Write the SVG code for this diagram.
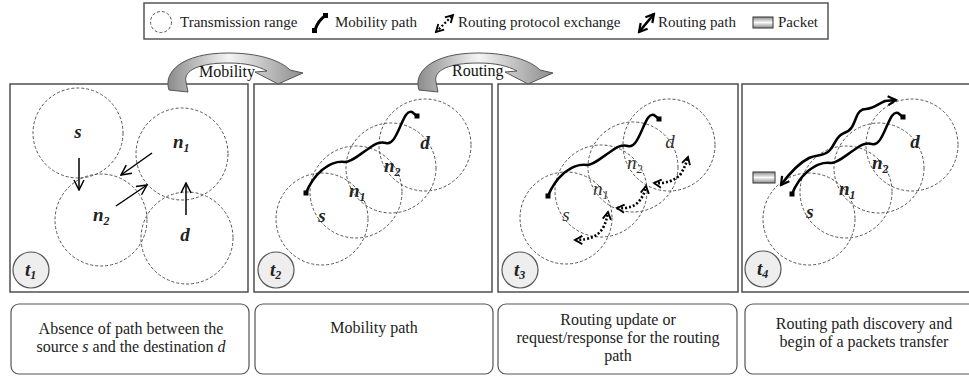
<svg xmlns="http://www.w3.org/2000/svg" width="969" height="378" viewBox="0 0 969 378">
<style>
.frame{fill:#fff;stroke:#444;stroke-width:1.4}
.cap{fill:#fff;stroke:#555;stroke-width:1.2}
.rng{fill:none;stroke:#555;stroke-width:1;stroke-dasharray:3 2}
.lbl{font-family:"Liberation Serif","Times New Roman",serif;font-style:italic;font-weight:bold;font-size:19px;fill:#222}
.lbl3{font-family:"Liberation Serif","Times New Roman",serif;font-style:italic;font-size:19px;fill:#333}
.sub{font-size:12px}
.txt{font-family:"Liberation Serif","Times New Roman",serif;font-size:15px;fill:#222}
.ctx{font-family:"Liberation Serif","Times New Roman",serif;font-size:16px;fill:#222}
.ttl{font-family:"Liberation Serif","Times New Roman",serif;font-size:16px;fill:#111}
.tc{fill:#eee;stroke:#555;stroke-width:1.2}
.mob{fill:none;stroke:#000;stroke-width:2.5;stroke-linejoin:round}
.arr{fill:none;stroke:#000;stroke-width:1.5;marker-end:url(#open)}
.dot{fill:none;stroke:#000;stroke-width:2.6;stroke-dasharray:2 2;marker-start:url(#dh);marker-end:url(#dh)}
.rp{fill:none;stroke:#000;stroke-width:2.6;marker-start:url(#rh);marker-end:url(#rh)}
.sq{fill:#000}
</style>
<defs>
<marker id="open" markerUnits="userSpaceOnUse" viewBox="0 0 12 12" refX="11" refY="6" markerWidth="12" markerHeight="12" orient="auto">
<path d="M1,1 L11,6 L1,11" fill="none" stroke="#000" stroke-width="1.5"/>
</marker>
<marker id="dh" markerUnits="userSpaceOnUse" viewBox="0 0 12 12" refX="10" refY="6" markerWidth="11" markerHeight="11" orient="auto-start-reverse">
<path d="M2,1.5 L10,6 L2,10.5" fill="none" stroke="#000" stroke-width="2"/>
</marker>
<marker id="rh" markerUnits="userSpaceOnUse" viewBox="0 0 12 12" refX="10" refY="6" markerWidth="12" markerHeight="12" orient="auto-start-reverse">
<path d="M2,1.5 L10,6 L2,10.5" fill="none" stroke="#000" stroke-width="2.2"/>
</marker>
<linearGradient id="ag" x1="0" y1="0" x2="1" y2="0">
<stop offset="0" stop-color="#8c8c8c"/>
<stop offset="0.45" stop-color="#f4f4f4"/>
<stop offset="1" stop-color="#8c8c8c"/>
</linearGradient>
<linearGradient id="pg" x1="0" y1="0" x2="0" y2="1">
<stop offset="0" stop-color="#8a8a8a"/>
<stop offset="0.5" stop-color="#fafafa"/>
<stop offset="1" stop-color="#8a8a8a"/>
</linearGradient>
<path id="curv" d="M169,90 C163,72 182,53 228,53 C258,53 280,60 290,70 L303,73 L278,84 L255,72 L267,71 C258,66 246,63 228,63 C200,63 183,70 186,82 L188,92 Z" fill="url(#ag)" stroke="#555" stroke-width="1"/>
<path id="mpath" d="M306,193 C310,183 315,176 322,170 C330,164 336,161 345,162 C352,162 360,154 368,149 C375,144 380,141 386,143 C392,145 396,136 400,127 C404,118 407,110 412,112 L417,116"/>
</defs>

<!-- Legend -->
<g id="legend">
<rect x="144" y="3" width="684" height="36" fill="#fff" stroke="#555" stroke-width="1.5"/>
<circle cx="161" cy="22" r="10.5" class="rng"/>
<text x="180" y="27" class="txt">Transmission range</text>
<path d="M315,30 C317,24 320,19 325,16" fill="none" stroke="#000" stroke-width="3"/>
<rect x="312" y="28" width="5" height="5" class="sq"/>
<rect x="323" y="13" width="5" height="5" class="sq"/>
<text x="335" y="27" class="txt">Mobility path</text>
<path d="M436,32 L453,15" fill="none" stroke="#000" stroke-width="2.2" stroke-dasharray="2 2" marker-start="url(#dh)" marker-end="url(#dh)"/>
<text x="458" y="27" class="txt">Routing protocol exchange</text>
<path d="M639,32 L654,14" fill="none" stroke="#000" stroke-width="2.6" marker-start="url(#rh)" marker-end="url(#rh)"/>
<text x="658" y="27" class="txt">Routing path</text>
<rect x="753" y="17" width="20" height="11" fill="url(#pg)" stroke="#333" stroke-width="1"/>
<text x="778" y="27" class="txt">Packet</text>
</g>

<!-- Panels -->
<g id="panel1">
<rect x="10" y="84" width="238" height="208" class="frame"/>
<g id="p1-s"><circle cx="78" cy="133" r="45" class="rng"/><text x="78" y="138" text-anchor="middle" class="lbl">s</text></g>
<g id="p1-n1"><circle cx="182" cy="154" r="46" class="rng"/><text x="173" y="148" class="lbl">n<tspan class="sub" dy="4">1</tspan></text></g>
<g id="p1-n2"><circle cx="101" cy="220" r="46" class="rng"/><text x="93" y="221" class="lbl">n<tspan class="sub" dy="4">2</tspan></text></g>
<g id="p1-d"><circle cx="187" cy="238" r="46" class="rng"/><text x="185" y="241" text-anchor="middle" class="lbl">d</text></g>
<g id="p1-t"><circle cx="31" cy="270" r="18" class="tc"/><text x="25" y="276" class="lbl">t<tspan class="sub" dy="3">1</tspan></text></g>
</g>

<g id="panel2">
<rect x="254" y="84" width="238" height="208" class="frame"/>
<g id="p2-s"><circle cx="322" cy="219" r="46" class="rng"/><text x="322" y="222" text-anchor="middle" class="lbl">s</text></g>
<g id="p2-n1"><circle cx="356" cy="192" r="46" class="rng"/><text x="349" y="197" class="lbl">n<tspan class="sub" dy="4">1</tspan></text></g>
<g id="p2-n2"><circle cx="391" cy="168" r="45" class="rng"/><text x="384" y="172" class="lbl">n<tspan class="sub" dy="4">2</tspan></text></g>
<g id="p2-d"><circle cx="425" cy="145" r="46" class="rng"/><text x="425" y="149" text-anchor="middle" class="lbl">d</text></g>
<g id="p2-t"><circle cx="276" cy="270" r="18" class="tc"/><text x="270" y="276" class="lbl">t<tspan class="sub" dy="3">2</tspan></text></g>
</g>

<g id="panel3">
<rect x="498" y="84" width="240" height="208" class="frame"/>
<g id="p3-s"><circle cx="566" cy="218" r="46" class="rng"/><text x="566" y="221" text-anchor="middle" class="lbl3">s</text></g>
<g id="p3-n1"><circle cx="601" cy="191" r="46" class="rng"/><text x="593" y="195" class="lbl3">n<tspan class="sub" dy="4">1</tspan></text></g>
<g id="p3-n2"><circle cx="633" cy="167" r="45" class="rng"/><text x="627" y="169" class="lbl3">n<tspan class="sub" dy="4">2</tspan></text></g>
<g id="p3-d"><circle cx="669" cy="145" r="46" class="rng"/><text x="670" y="148" text-anchor="middle" class="lbl3">d</text></g>
<g id="p3-t"><circle cx="520" cy="270" r="18" class="tc"/><text x="514" y="276" class="lbl">t<tspan class="sub" dy="3">3</tspan></text></g>
</g>

<g id="panel4">
<rect x="742" y="84" width="240" height="208" class="frame"/>
<g id="p4-s"><circle cx="809" cy="219" r="46" class="rng"/><text x="810" y="218" text-anchor="middle" class="lbl">s</text></g>
<g id="p4-n1"><circle cx="846" cy="192" r="46" class="rng"/><text x="839" y="195" class="lbl">n<tspan class="sub" dy="4">1</tspan></text></g>
<g id="p4-n2"><circle cx="879" cy="168" r="45" class="rng"/><text x="872" y="169" class="lbl">n<tspan class="sub" dy="4">2</tspan></text></g>
<g id="p4-d"><circle cx="912" cy="145" r="46" class="rng"/><text x="915" y="148" text-anchor="middle" class="lbl">d</text></g>
<g id="p4-t"><circle cx="763" cy="269" r="18" class="tc"/><text x="757" y="275" class="lbl">t<tspan class="sub" dy="3">4</tspan></text></g>
<g id="p4-packet"><rect x="753" y="172" width="22" height="11" fill="url(#pg)" stroke="#333" stroke-width="1"/></g>
</g>

<!-- Connectors -->
<g id="connectors">
<path d="M79,158 L79,190" class="arr"/>
<path d="M152,153 L121,175" class="arr"/>
<path d="M116,206 L147,185" class="arr"/>
<path d="M186,215 L186,183" class="arr"/>

<use href="#mpath" class="mob"/>
<rect x="303.5" y="190.5" width="5" height="5" class="sq"/>
<rect x="414.5" y="113.5" width="5" height="5" class="sq"/>

<use href="#mpath" class="mob" transform="translate(242,3)"/>
<rect x="545.5" y="193.5" width="5" height="5" class="sq"/>
<rect x="656.5" y="116.5" width="5" height="5" class="sq"/>

<path d="M575,240 C590,240 598,236 603,228 C606,222 607,218 608,212" class="dot"/>
<path d="M617,208 C628,209 636,206 640,200 C643,196 645,192 646,186" class="dot"/>
<path d="M654,183 C664,184 674,181 680,175 C684,169 686,164 688,157" class="dot"/>

<use href="#mpath" class="mob" transform="translate(486,1)"/>
<rect x="789.5" y="191.5" width="5" height="5" class="sq"/>
<rect x="900.5" y="114.5" width="5" height="5" class="sq"/>

<path d="M781,185 C789,174 799,163 809,158 C817,154 824,157 830,150 C836,143 836,136 844,133 C851,131 853,126 856,118 C858,112 861,109 866,109 C873,109 878,104 885,101 L896,100" class="rp"/>
</g>

<!-- Transition arrows -->
<g id="transitions">
<use href="#curv"/>
<text x="199" y="77" class="ttl">Mobility</text>
<use href="#curv" transform="translate(250,0)"/>
<text x="452" y="76" class="ttl">Routing</text>
</g>

<!-- Captions -->
<g id="cap1">
<rect x="11" y="304" width="238" height="70" rx="8" class="cap"/>
<text x="131" y="334" text-anchor="middle" class="ctx">Absence of path between the</text>
<text x="131" y="352" text-anchor="middle" class="ctx">source <tspan font-style="italic">s</tspan> and the destination <tspan font-style="italic">d</tspan></text>
</g>
<g id="cap2">
<rect x="255" y="304" width="238" height="70" rx="8" class="cap"/>
<text x="374" y="333" text-anchor="middle" class="ctx">Mobility path</text>
</g>
<g id="cap3">
<rect x="498" y="304" width="239" height="70" rx="8" class="cap"/>
<text x="618" y="325" text-anchor="middle" class="ctx">Routing update or</text>
<text x="618" y="343" text-anchor="middle" class="ctx">request/response for the routing</text>
<text x="618" y="361" text-anchor="middle" class="ctx">path</text>
</g>
<g id="cap4">
<rect x="745" y="304" width="238" height="70" rx="8" class="cap"/>
<text x="864" y="329" text-anchor="middle" class="ctx">Routing path discovery and</text>
<text x="864" y="347" text-anchor="middle" class="ctx">begin of a packets transfer</text>
</g>
</svg>
